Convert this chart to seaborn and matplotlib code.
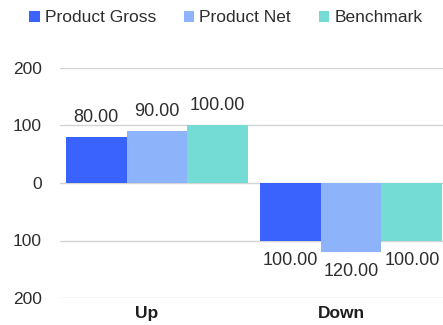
import matplotlib
matplotlib.use("Agg")
import matplotlib.pyplot as plt
import matplotlib.transforms as mtransforms
from matplotlib.patches import Patch
from matplotlib.ticker import FuncFormatter, FixedLocator
import seaborn as sns
import pandas as pd

# Chart data
categories = ["Up", "Down"]
series_names = ["Product Gross", "Product Net", "Benchmark"]
product_gross = [80, -100]
product_net = [90, -120]
benchmark = [100, -100]
y_ticks = [-200, -100, 0, 100, 200]

colors = ["#3a62fd", "#8db4fb", "#74dcd4"]

rows = []
for name, vals in zip(series_names, [product_gross, product_net, benchmark]):
    for cat, v in zip(categories, vals):
        rows.append({"category": cat, "series": name, "value": v})
df = pd.DataFrame(rows)

sns.set_theme(style="white")
plt.rcParams["font.family"] = ["Liberation Sans", "DejaVu Sans"]
text_color = "#2e2e2e"

fig = plt.figure(figsize=(4.43, 3.25), dpi=100)
ax = fig.add_axes([0.1354, 0.083, 0.8646, 0.708])

sns.barplot(data=df, x="category", y="value", hue="series", order=categories,
            hue_order=series_names, palette=colors, width=0.94, gap=0,
            saturation=1, errorbar=None, ax=ax, legend=False, zorder=2,
            linewidth=0, edgecolor="none")

for container, vals in zip(ax.containers, [product_gross, product_net, benchmark]):
    ax.bar_label(container, labels=[f"{abs(v):.2f}" for v in vals], padding=8,
                 fontsize=13, color=text_color)

ax.set_ylim(-200, 200)
ax.set_xlim(-0.5, 1.474)
ax.yaxis.set_major_locator(FixedLocator(y_ticks))
ax.yaxis.set_major_formatter(FuncFormatter(lambda v, _: f"{abs(v):.0f}"))
ax.grid(axis="y", color="#d4d4d4", linewidth=1, zorder=0)
ax.grid(axis="x", visible=False)
for s in ax.spines.values():
    s.set_visible(False)
ax.tick_params(axis="y", length=0, pad=13, labelsize=12.5, labelcolor=text_color)
ax.tick_params(axis="x", length=0, pad=6, labelsize=12.5, labelcolor="#1e1e1e")
ax.set_xlabel("")
ax.set_ylabel("")
for lbl in ax.get_xticklabels():
    lbl.set_fontweight("bold")
    lbl.set_transform(lbl.get_transform() +
                      mtransforms.ScaledTranslation(-10 / 100, 0, fig.dpi_scale_trans))

handles = [Patch(facecolor=c, edgecolor="none", label=n) for c, n in zip(colors, series_names)]
fig.legend(handles=handles, loc="center", bbox_to_anchor=(0.51, 0.945), ncol=3,
           frameon=False, fontsize=12.5, handlelength=0.6, handleheight=0.6,
           handletextpad=0.3, columnspacing=1.6, labelcolor=text_color)

fig.savefig("out.png", dpi=100)
